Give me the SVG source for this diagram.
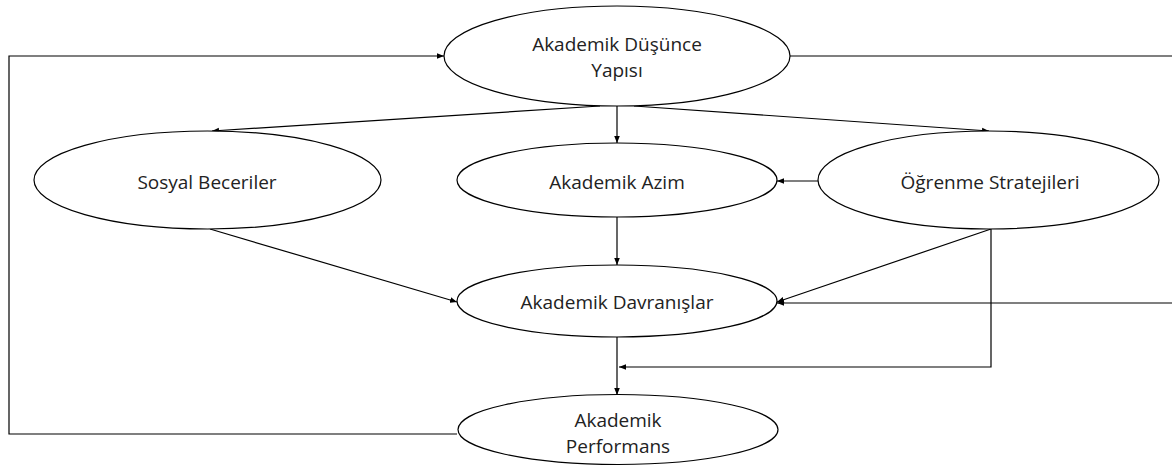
<svg xmlns="http://www.w3.org/2000/svg" width="1172" height="466" viewBox="0 0 1172 466">
<style>
.n{fill:#fff;stroke:#000;stroke-width:1.2}
.t{font-family:"Open Sans","Liberation Sans",sans-serif;font-size:19px;fill:#222;text-anchor:middle;dominant-baseline:central}
.c{fill:none;stroke:#000;stroke-width:1.2}
</style>
<defs>
<marker id="a" viewBox="0 0 10 10" refX="10" refY="5" markerWidth="7" markerHeight="7" markerUnits="userSpaceOnUse" orient="auto">
<path d="M0,1 L10,5 L0,9 z" fill="#000"/>
</marker>
</defs>
<rect width="1172" height="466" fill="#fff"/>
<g id="connectors">
<path class="c" d="M457,434 L9,434 L9,56 L444,56" marker-end="url(#a)"/>
<path class="c" d="M790,56 L1180,56 L1180,303 L777,303" marker-end="url(#a)"/>
<path class="c" d="M600,106 L212,131" marker-end="url(#a)"/>
<path class="c" d="M617,106 L617,143" marker-end="url(#a)"/>
<path class="c" d="M634,106 L989,131" marker-end="url(#a)"/>
<path class="c" d="M818,181 L777,181" marker-end="url(#a)"/>
<path class="c" d="M617,217 L617,265" marker-end="url(#a)"/>
<path class="c" d="M210,229 L457,302" marker-end="url(#a)"/>
<path class="c" d="M991,229 L777,302" marker-end="url(#a)"/>
<path class="c" d="M991,229 L991,367 L619,367" marker-end="url(#a)"/>
<path class="c" d="M617,337 L617,395" marker-end="url(#a)"/>
</g>
<g id="node-ady">
<ellipse class="n" cx="617" cy="56" rx="173" ry="50"/>
<text class="t" x="617" y="44">Akademik Düşünce</text>
<text class="t" x="617" y="70">Yapısı</text>
</g>
<g id="node-sb">
<ellipse class="n" cx="207.5" cy="180" rx="173.5" ry="49"/>
<text class="t" x="207" y="182">Sosyal Beceriler</text>
</g>
<g id="node-aa">
<ellipse class="n" cx="617" cy="180" rx="160" ry="37"/>
<text class="t" x="617" y="182">Akademik Azim</text>
</g>
<g id="node-os">
<ellipse class="n" cx="988.5" cy="180" rx="170.5" ry="49"/>
<text class="t" x="990" y="182">Öğrenme Stratejileri</text>
</g>
<g id="node-ad">
<ellipse class="n" cx="617" cy="301" rx="160" ry="36"/>
<text class="t" x="617" y="302">Akademik Davranışlar</text>
</g>
<g id="node-ap">
<ellipse class="n" cx="618" cy="429.5" rx="160" ry="35"/>
<text class="t" x="618" y="420">Akademik</text>
<text class="t" x="618" y="446">Performans</text>
</g>
</svg>
